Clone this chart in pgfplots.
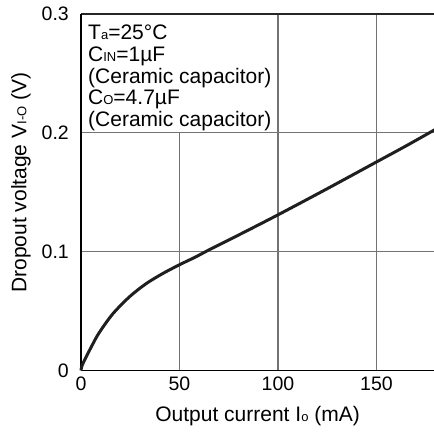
\documentclass[border=0pt]{standalone}
\usepackage{pgfplots}
\pgfplotsset{compat=1.18}
\usepackage{fontspec}
\setmainfont{Liberation Sans}

% small letters used as subscripts in the datasheet labels
\newcommand\sub[1]{{\fontsize{13}{13}\selectfont #1}}

\begin{document}
\begin{tikzpicture}
\begin{axis}[
    at={(81pt,63.5pt)}, anchor=south west,
    scale only axis,
    width=354.6pt, height=356.5pt,
    xmin=0, xmax=180, ymin=0, ymax=0.3,
    xtick={0,50,100,150}, ytick={0,0.1,0.2,0.3},
    yticklabels={0,0.1,0.2,0.3},
    /pgf/number format/assume math mode=true,
    tick label style={font=\fontsize{19.5}{20}\selectfont, inner sep=0pt},
    xticklabel style={yshift=-6pt},
    yticklabel style={xshift=-12pt},
    major tick length=0pt,
    grid=major,
    major grid style={draw=black!55, line width=1.2pt},
    axis line style={line width=1.5pt},
    axis x line*=bottom, axis y line*=left,
    label style={font=\fontsize{21}{22}\selectfont},
    xlabel={Output current I\sub{o} (mA)},
    xlabel style={at={(axis description cs:0.498,-0.143)}, anchor=base},
    ylabel={Dropout voltage V\sub{I-O} (V)},
    ylabel style={at={(axis description cs:-0.169,0.527)}, anchor=center},
    clip=false,
]
    % condition box over the upper left grid cells
    \fill[white] (axis cs:0,0.2) rectangle (axis cs:100,0.3);
    \draw[black!55, line width=1.2pt] (axis cs:0,0.2) -- (axis cs:100,0.2) -- (axis cs:100,0.3);
    \draw[black!85, line width=1.3pt] (axis cs:0,0.3) -- (axis cs:180,0.3);
    \draw[black, line width=1.5pt] (axis cs:0,0) -- (axis cs:0,0.3);
    \node[anchor=north west, inner sep=0pt, align=left,
          font=\fontsize{21}{21.6}\selectfont]
        at (axis cs:0,0.3) [xshift=7pt, yshift=-11pt]
        {T\sub{a}=25°C\\
         C\sub{IN}=1µF\\
         (Ceramic capacitor)\\
         C\sub{O}=4.7µF\\
         (Ceramic capacitor)};

    \addplot[line width=3pt, color=black!88, smooth] coordinates {
        (0,0) (0.5,0.004) (2.5,0.011) (5.9,0.022) (9.3,0.032)
        (16.1,0.0476) (24.6,0.062) (33,0.073) (41.5,0.0816)
        (50,0.089) (58.5,0.0958) (64.4,0.101) (80,0.114)
        (100,0.131) (125,0.153) (150,0.1755) (165,0.189) (180,0.203)
    };
\end{axis}
\pgfresetboundingbox
\useasboundingbox (0,0) rectangle (434pt,434pt);
\end{tikzpicture}
\end{document}
